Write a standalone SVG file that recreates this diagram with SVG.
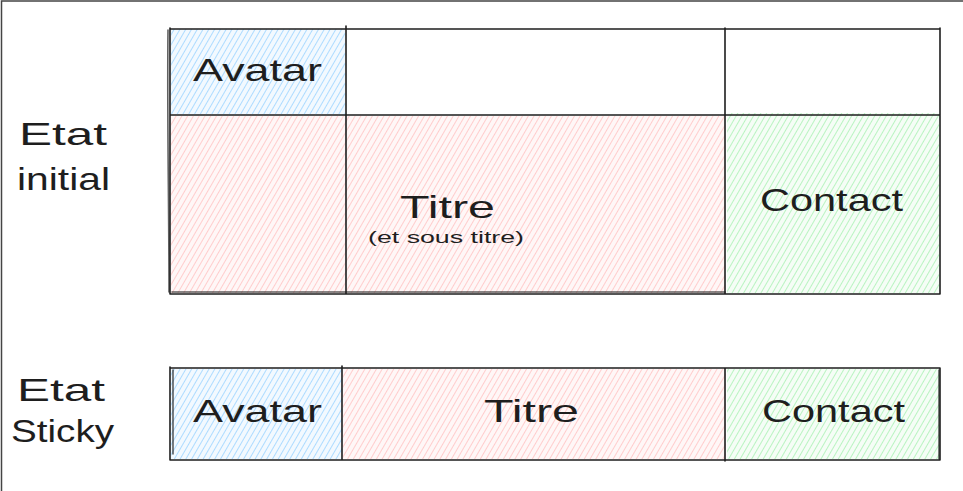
<svg xmlns="http://www.w3.org/2000/svg" width="963" height="491" viewBox="0 0 963 491">
<defs>
<pattern id="hb" patternUnits="userSpaceOnUse" width="5" height="5" patternTransform="rotate(30)">
<rect width="5" height="5" fill="#f2f9ff"/><line x1="0" y1="0" x2="0" y2="5" stroke="#a5d8ff" stroke-width="1.8"/></pattern>
<pattern id="hr" patternUnits="userSpaceOnUse" width="5" height="5" patternTransform="rotate(30)">
<rect width="5" height="5" fill="#fff7f7"/><line x1="0" y1="0" x2="0" y2="5" stroke="#ffc9c9" stroke-width="1.8"/></pattern>
<pattern id="hg" patternUnits="userSpaceOnUse" width="5" height="5" patternTransform="rotate(30)">
<rect width="5" height="5" fill="#f5fdf6"/><line x1="0" y1="0" x2="0" y2="5" stroke="#b2f2bb" stroke-width="1.8"/></pattern>
</defs>
<style>
.ln{fill:none;stroke:#1e1e1e;stroke-width:1.6;stroke-linecap:round}
.t{font-family:"Liberation Sans","DejaVu Sans",sans-serif;fill:#1e1e1e;text-anchor:start}
.big{font-size:32px}
.sm{font-size:16px}
</style>
<rect width="963" height="491" fill="#ffffff"/>
<path d="M1.5,491 V1 H963" fill="none" stroke="#444" stroke-width="1.5"/>

<g id="labels">
<text class="t big" x="19" y="145" textLength="88" lengthAdjust="spacingAndGlyphs">Etat</text>
<text class="t big" x="17" y="190" textLength="93" lengthAdjust="spacingAndGlyphs">initial</text>
<text class="t big" x="17" y="401" textLength="88" lengthAdjust="spacingAndGlyphs">Etat</text>
<text class="t big" x="11" y="442" textLength="103" lengthAdjust="spacingAndGlyphs">Sticky</text>
</g>

<g id="initial-avatar">
<rect x="171" y="29" width="174" height="85" fill="url(#hb)"/>
<text class="t big" x="193" y="81" textLength="129" lengthAdjust="spacingAndGlyphs">Avatar</text>
</g>
<g id="initial-titre">
<rect x="171" y="116" width="554" height="177" fill="url(#hr)"/>
<text class="t big" x="400" y="218" textLength="95" lengthAdjust="spacingAndGlyphs">Titre</text>
<text class="t sm" x="368" y="243" textLength="156" lengthAdjust="spacingAndGlyphs">(et sous titre)</text>
</g>
<g id="initial-contact">
<rect x="727" y="113" width="212" height="180" fill="url(#hg)"/>
<text class="t big" x="760" y="211" textLength="143" lengthAdjust="spacingAndGlyphs">Contact</text>
</g>
<g id="initial-grid">
<path class="ln" d="M170,29 H940 M170,115 H940 M170,294 H940 M170,28 V294 M346,26 V294 M725,28 V294 M940,28 V294"/>
<path class="ln" d="M168,30 C167,120 169,200 169,292 M172,292 H725" stroke-width="1" opacity="0.7"/>
</g>

<g id="sticky-avatar">
<rect x="171" y="369" width="171" height="90" fill="url(#hb)"/>
<text class="t big" x="193" y="422" textLength="129" lengthAdjust="spacingAndGlyphs">Avatar</text>
</g>
<g id="sticky-titre">
<rect x="343" y="369" width="383" height="90" fill="url(#hr)"/>
<text class="t big" x="484" y="422" textLength="95" lengthAdjust="spacingAndGlyphs">Titre</text>
</g>
<g id="sticky-contact">
<rect x="727" y="369" width="212" height="90" fill="url(#hg)"/>
<text class="t big" x="762" y="422" textLength="143" lengthAdjust="spacingAndGlyphs">Contact</text>
</g>
<g id="sticky-grid">
<path class="ln" d="M170,368 H940 M170,460 H940 M170,367 V460 M342,366 V459 M725,368 V461 M940,368 V460"/>
<path class="ln" d="M173,370 V454 M939,370 V459" stroke-width="1" opacity="0.7"/>
</g>
</svg>
